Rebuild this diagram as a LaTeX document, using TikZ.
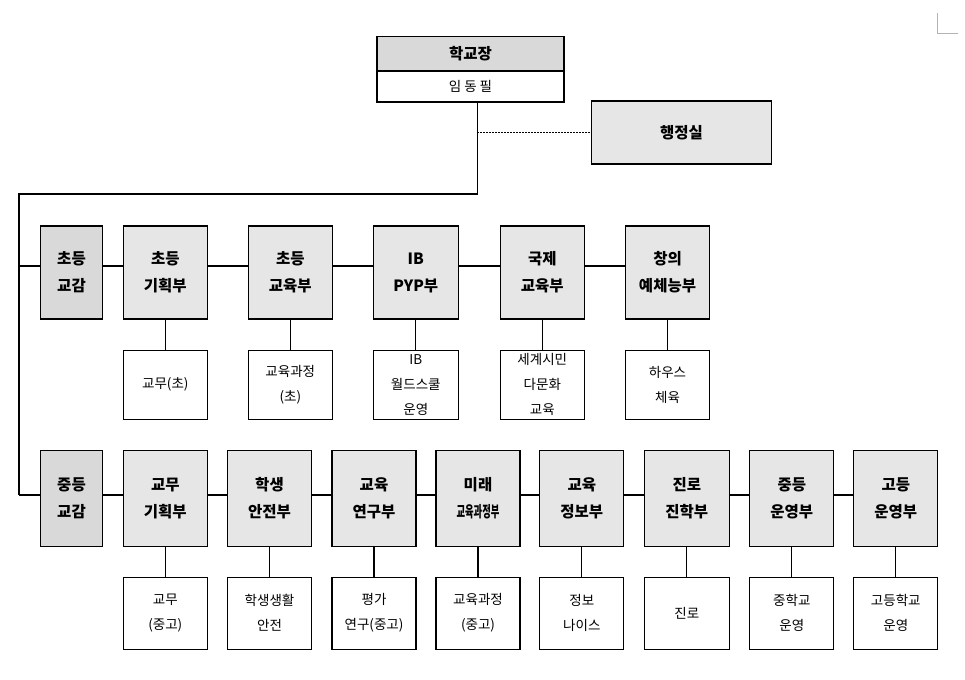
\documentclass[tikz,border=0pt]{standalone}
\usepackage{fontspec}
\newfontfamily\kr{Noto Sans CJK KR}
\definecolor{gA}{HTML}{E6E6E6}
\definecolor{gB}{HTML}{D9D9D9}
\tikzset{
  lines/.style={line width=1.1pt, black},
  headbox/.style={draw, line width=1.1pt, fill=gA, minimum width=84pt, inner sep=0pt, align=center,
    font=\kr\bfseries\fontsize{15.5}{27}\selectfont},
  vpbox/.style={headbox, fill=gB, minimum width=62pt},
  subbox/.style={draw, line width=1.1pt, fill=white, minimum width=84pt, inner sep=0pt, align=center,
    font=\kr\fontsize{13.5}{25}\selectfont},
  toph/.style={minimum height=93pt},
  both/.style={minimum height=96pt},
  tops/.style={minimum height=69pt},
  bots/.style={minimum height=72pt},
}
\begin{document}
\begin{tikzpicture}[x=1pt,y=-1pt]
\useasboundingbox (0,0) rectangle (965,679);
% corner mark
\draw[gray!60, line width=0.8pt] (937,13) -- (937,33) -- (958,33);
% coordinates for trunk lines
\coordinate (drop) at (477.3,101);
\coordinate (tl) at (19,194);
\coordinate (rowT) at (19,266);
\coordinate (rowB) at (19,495);
\coordinate (dotY) at (477.3,132.5);
% principal
\node[draw, line width=1.1pt, fill=gB, minimum width=187pt, minimum height=33.7pt, inner sep=0pt,
  font=\kr\bfseries\fontsize{15.5}{18}\selectfont] (Ph) at (470.5,53.8) {학교장};
\node[draw, line width=1.1pt, fill=white, minimum width=187pt, minimum height=30.3pt, inner sep=0pt,
  font=\kr\fontsize{13.5}{16}\selectfont, anchor=north] (Pn) at (Ph.south) {임 동 필};
% admin office
\node[headbox, minimum width=180pt, minimum height=63pt] (Adm) at (681.5,132.5) {행정실};
% top row
\node[vpbox, toph] (A0) at (71.5,272.5) {초등\\교감};
\node[headbox, toph] (A1) at (165.3,272.5) {초등\\기획부};
\node[headbox, toph] (A2) at (290.3,272.5) {초등\\교육부};
\node[headbox, toph, minimum width=85pt] (A3) at (415.8,272.5) {IB\\PYP부};
\node[headbox, toph] (A4) at (542.3,272.5) {국제\\교육부};
\node[headbox, toph] (A5) at (667.5,272.5) {창의\\예체능부};
\node[subbox, tops] (SA1) at (165.3,384.7) {교무(초)};
\node[subbox, tops] (SA2) at (290.3,384.7) {교육과정\\(초)};
\node[subbox, tops, minimum width=85pt] (SA3) at (415.8,384.7) {IB\\월드스쿨\\운영};
\node[subbox, tops] (SA4) at (542.3,384.7) {세계시민\\다문화\\교육};
\node[subbox, tops] (SA5) at (667.5,384.7) {하우스\\체육};
% bottom row
\node[vpbox, both] (B0) at (71.5,498.2) {중등\\교감};
\node[headbox, both] (B1) at (165.3,498.2) {교무\\기획부};
\node[headbox, both] (B2) at (269.5,498.2) {학생\\안전부};
\node[headbox, both] (B3) at (374,498.2) {교육\\연구부};
\node[headbox, both] (B4) at (478,498.2) {미래\\\scalebox{0.6}[1]{교육과정부}};
\node[headbox, both] (B5) at (581.8,498.2) {교육\\정보부};
\node[headbox, both, minimum width=85pt] (B6) at (686.8,498.2) {진로\\진학부};
\node[headbox, both] (B7) at (791.8,498.2) {중등\\운영부};
\node[headbox, both] (B8) at (895.8,498.2) {고등\\운영부};
\node[subbox, bots] (SB1) at (165.3,613.2) {교무\\(중고)};
\node[subbox, bots] (SB2) at (269.5,613.2) {학생생활\\안전};
\node[subbox, bots] (SB3) at (374,613.2) {평가\\연구(중고)};
\node[subbox, bots] (SB4) at (478,613.2) {교육과정\\(중고)};
\node[subbox, bots] (SB5) at (581.8,613.2) {정보\\나이스};
\node[subbox, bots, minimum width=85pt] (SB6) at (686.8,613.2) {진로};
\node[subbox, bots] (SB7) at (791.8,613.2) {중학교\\운영};
\node[subbox, bots] (SB8) at (895.8,613.2) {고등학교\\운영};
% trunk
\draw[lines] (drop) -- (drop |- tl) -- (tl) -- (rowB);
\draw[lines, line width=1.3pt, dash pattern=on 1.3pt off 1.7pt] (dotY) -- (Adm.west);
% top row links
\draw[lines] (rowT) -- (A0.west |- rowT);
\draw[lines] (A0.east |- rowT) -- (A1.west |- rowT);
\draw[lines] (A1.east |- rowT) -- (A2.west |- rowT);
\draw[lines] (A2.east |- rowT) -- (A3.west |- rowT);
\draw[lines] (A3.east |- rowT) -- (A4.west |- rowT);
\draw[lines] (A4.east |- rowT) -- (A5.west |- rowT);
\foreach \i in {1,...,5} {\draw[lines] (A\i.south) -- (SA\i.north);}
% bottom row links
\draw[lines] (rowB) -- (B0.west |- rowB);
\draw[lines] (B0.east |- rowB) -- (B1.west |- rowB);
\draw[lines] (B1.east |- rowB) -- (B2.west |- rowB);
\draw[lines] (B2.east |- rowB) -- (B3.west |- rowB);
\draw[lines] (B3.east |- rowB) -- (B4.west |- rowB);
\draw[lines] (B4.east |- rowB) -- (B5.west |- rowB);
\draw[lines] (B5.east |- rowB) -- (B6.west |- rowB);
\draw[lines] (B6.east |- rowB) -- (B7.west |- rowB);
\draw[lines] (B7.east |- rowB) -- (B8.west |- rowB);
\foreach \i in {1,...,8} {\draw[lines] (B\i.south) -- (SB\i.north);}
\end{tikzpicture}
\end{document}
